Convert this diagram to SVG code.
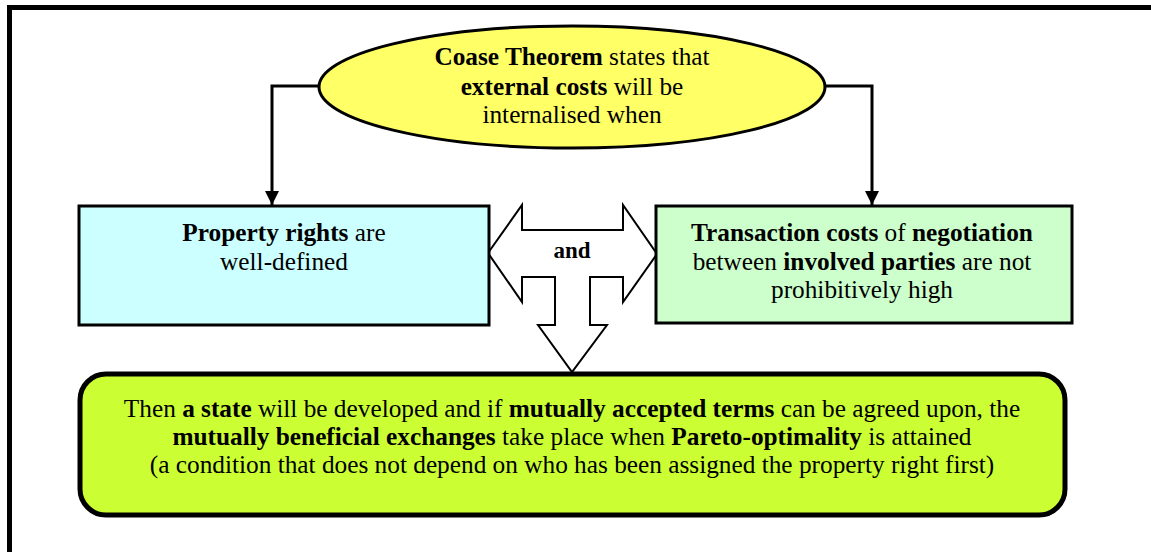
<svg xmlns="http://www.w3.org/2000/svg" width="1151" height="552" viewBox="0 0 1151 552">
  <defs>
    <style>
      .b { font-weight: bold; }
      .edge { fill: none; stroke: #000; stroke-width: 3; }
    </style>
    <marker id="arrow" markerWidth="14" markerHeight="14" refX="14" refY="7" orient="auto" markerUnits="userSpaceOnUse" viewBox="0 0 14 14">
      <path d="M0,0 L14,7 L0,14 z" fill="#000"/>
    </marker>
  </defs>

  <rect width="1151" height="552" fill="#fff"/>
  <!-- outer frame -->
  <rect x="9.5" y="7.5" width="1160" height="560" fill="none" stroke="#000" stroke-width="5"/>

  <g font-family="'Liberation Serif', serif" font-size="25.3" text-anchor="middle" fill="#000">
    <!-- connectors -->
    <g id="connectors">
      <path class="edge" d="M320,86 H272 V205" marker-end="url(#arrow)"/>
      <path class="edge" d="M825,86 H872 V205" marker-end="url(#arrow)"/>
      <path d="M488,253 L522,205 L522,230 L623,230 L623,205 L657,254 L623,302 L623,277 L590,277 L590,325 L607,325 L572,372 L538,325 L555,325 L555,277 L522,277 L522,302 Z" fill="#fff" stroke="#000" stroke-width="2"/>
      <text class="b" x="572" y="258" font-size="23">and</text>
    </g>

    <g id="coase">
      <ellipse cx="572" cy="87" rx="253" ry="61" fill="#ffff66" stroke="#000" stroke-width="3"/>
      <text x="572" y="65"><tspan class="b">Coase Theorem</tspan> states that</text>
      <text x="572" y="95"><tspan class="b">external costs</tspan> will be</text>
      <text x="572" y="123">internalised when</text>
    </g>

    <g id="property">
      <rect x="79" y="206" width="410" height="119" fill="#ccffff" stroke="#000" stroke-width="3"/>
      <text x="284" y="241"><tspan class="b">Property rights</tspan> are</text>
      <text x="284" y="270">well-defined</text>
    </g>

    <g id="transaction">
      <rect x="656" y="206" width="416" height="117" fill="#ccffcc" stroke="#000" stroke-width="3"/>
      <text x="862" y="241"><tspan class="b">Transaction costs</tspan> of <tspan class="b">negotiation</tspan></text>
      <text x="862" y="270">between <tspan class="b">involved parties</tspan> are not</text>
      <text x="862" y="298">prohibitively high</text>
    </g>

    <g id="outcome">
      <rect x="80" y="374" width="985" height="141" rx="26" ry="26" fill="#ccff33" stroke="#000" stroke-width="5"/>
      <text x="572" y="417">Then <tspan class="b">a state</tspan> will be developed and if <tspan class="b">mutually accepted terms</tspan> can be agreed upon, the</text>
      <text x="572" y="445"><tspan class="b">mutually beneficial exchanges</tspan> take place when <tspan class="b">Pareto-optimality</tspan> is attained</text>
      <text x="572" y="473">(a condition that does not depend on who has been assigned the property right first)</text>
    </g>
  </g>
</svg>
